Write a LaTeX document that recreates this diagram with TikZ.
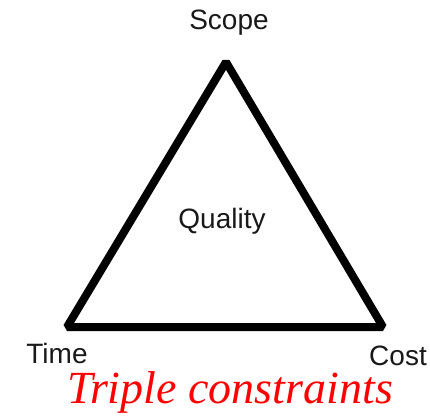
\documentclass[tikz,border=0pt]{standalone}
\usepackage{fontspec}
\setmainfont{Liberation Serif}
\setsansfont{Liberation Sans}
\usepackage{tikz}
\usetikzlibrary{positioning,calc}
\definecolor{myred}{RGB}{255,0,0}
\definecolor{mygray}{RGB}{25,25,25}

\begin{document}
\begin{tikzpicture}[x=1pt, y=-1pt,
    corner/.style={font=\sffamily\fontsize{28}{30}\selectfont, text=mygray, anchor=base, inner sep=0pt}]
  \useasboundingbox (0,0) rectangle (430,417);
  % Corners of the triangle
  \coordinate (top)   at (226,62);
  \coordinate (left)  at (67,327);
  \coordinate (right) at (383,327);
  \draw[line width=8pt, line join=bevel] (top) -- (left) -- (right) -- cycle;
  % Labels
  \node[corner] (scope)   at (229,30)  {Scope};
  \node[corner] (quality) at (222,228) {Quality};
  \node[corner] (time)    at (57,363)  {Time};
  \node[corner] (cost)    at (398,365) {Cost};
  \node[anchor=base, inner sep=0pt, text=myred,
        font=\itshape\fontsize{46}{48}\selectfont] (title) at (230,403) {Triple constraints};
\end{tikzpicture}
\end{document}
